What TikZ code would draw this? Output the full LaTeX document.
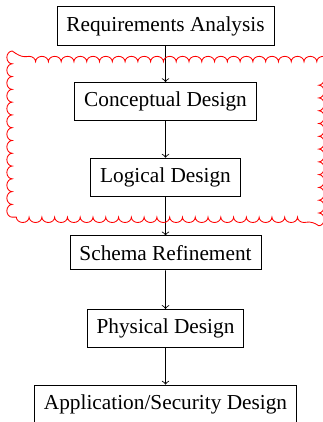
\documentclass[tikz,border=0pt]{standalone}
\usepackage{fontspec}
\setmainfont{Liberation Serif}
\usetikzlibrary{fit,decorations.pathmorphing}
\begin{document}
\begin{tikzpicture}[
        every node/.style={draw, rectangle, inner sep=4.4pt, text centered},
        edge from parent/.style ={draw, ->},
        level distance=35.5pt,
        bumpy/.style={draw=red, decorate, decoration={bumps, segment length=12pt, amplitude=2.5pt}},
    ]
    \useasboundingbox (-77.7pt,12.2pt) rectangle (73.5pt,-185.9pt);
    \node[](req){Requirements Analysis}
    child{node[](concept){Conceptual Design}
        child{node[](logic){Logical Design}
            child{node[](refine){Schema Refinement}
                child{node[](phys){Physical Design}
                    child{node[](app){Application/Security Design}}
                }
            }
        }
    }
    ;
    \node[draw=none, fit=(concept)(logic), inner xsep=29pt, inner ysep=9.4pt](design){};
    \draw[bumpy] (design.south west) -- (design.north west) -- (design.north east)
        -- (design.south east) -- cycle;
\end{tikzpicture}
\end{document}
